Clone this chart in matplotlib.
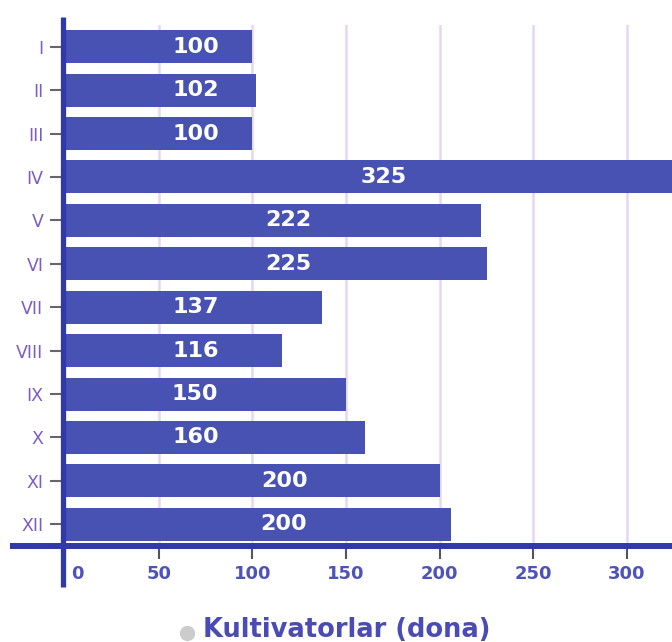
import matplotlib
matplotlib.use('Agg')
import matplotlib.pyplot as plt
from matplotlib.lines import Line2D
from matplotlib.transforms import ScaledTranslation

# data
months = ['I', 'II', 'III', 'IV', 'V', 'VI', 'VII', 'VIII', 'IX', 'X', 'XI', 'XII']
values = [100, 102, 100, 325, 222, 225, 137, 116, 150, 160, 200, 206]
value_labels = ['100', '102', '100', '325', '222', '225', '137', '116', '150', '160', '200', '200']
xticks = [0, 50, 100, 150, 200, 250, 300]
series_name = 'Kultivatorlar (dona)'

BAR = '#4752b3'
AXIS = '#2f3aa8'
GRID = '#e6d6f4'
TICKTXT = '#4f52b8'
YTXT = '#7e5cc4'

W, H = 672, 642
fig = plt.figure(figsize=(W / 100, H / 100), dpi=100)
ax = fig.add_axes([65 / W, 1 - 546 / H, (W - 65) / W, (546 - 25) / H])

ypos = list(range(len(months)))
ax.barh(ypos, values, height=0.76, color=BAR, zorder=2)
ax.set_ylim(len(months) - 0.5, -0.5)
ax.set_xlim(0, 324)

# where the library put the value labels (data units)
label_pos = [70, 70, 70, 170, 119, 119, 70, 70, 69, 70, 117, 116.5]
for y, lx, txt in zip(ypos, label_pos, value_labels):
    ax.text(lx, y, txt, color='white', ha='center', va='center',
            fontsize=16, fontweight='bold', zorder=3)

for t in xticks[1:]:
    ax.axvline(t, color=GRID, lw=1.8, zorder=1)

for s in ax.spines.values():
    s.set_visible(False)

ax.tick_params(axis='x', length=9, width=1.5, color='#555555', pad=4.5,
               labelsize=13, labelcolor=TICKTXT)
ax.tick_params(axis='y', length=11, width=1.5, color='#666666', pad=4.5,
               labelsize=12.5, labelcolor=YTXT)
ax.set_yticks(ypos, months)
ax.set_xticks(xticks, [str(t) for t in xticks])
for lbl in ax.get_xticklabels():
    lbl.set_fontweight('bold')
zero = ax.get_xticklabels()[0]
zero.set_ha('left')
zero.set_transform(zero.get_transform() + ScaledTranslation(6 / 100, 0, fig.dpi_scale_trans))

# heavy axis lines
fig.add_artist(Line2D([10 / W, 1], [1 - 546 / H] * 2, color=AXIS, lw=4.3,
                      transform=fig.transFigure, solid_capstyle='butt'))
fig.add_artist(Line2D([63 / W] * 2, [1 - 17 / H, 1 - 587 / H], color=AXIS, lw=3.8,
                      transform=fig.transFigure, solid_capstyle='butt'))

# legend
fig.add_artist(Line2D([187 / W], [1 - 633 / H], marker='o', markersize=10,
                      color='#cccccc', transform=fig.transFigure))
fig.text(203 / W, 1 - 637 / H, series_name, color='#4b4bb5', fontsize=18.5,
         fontweight='bold', ha='left', va='baseline')

fig.savefig('out.png', dpi=100)
